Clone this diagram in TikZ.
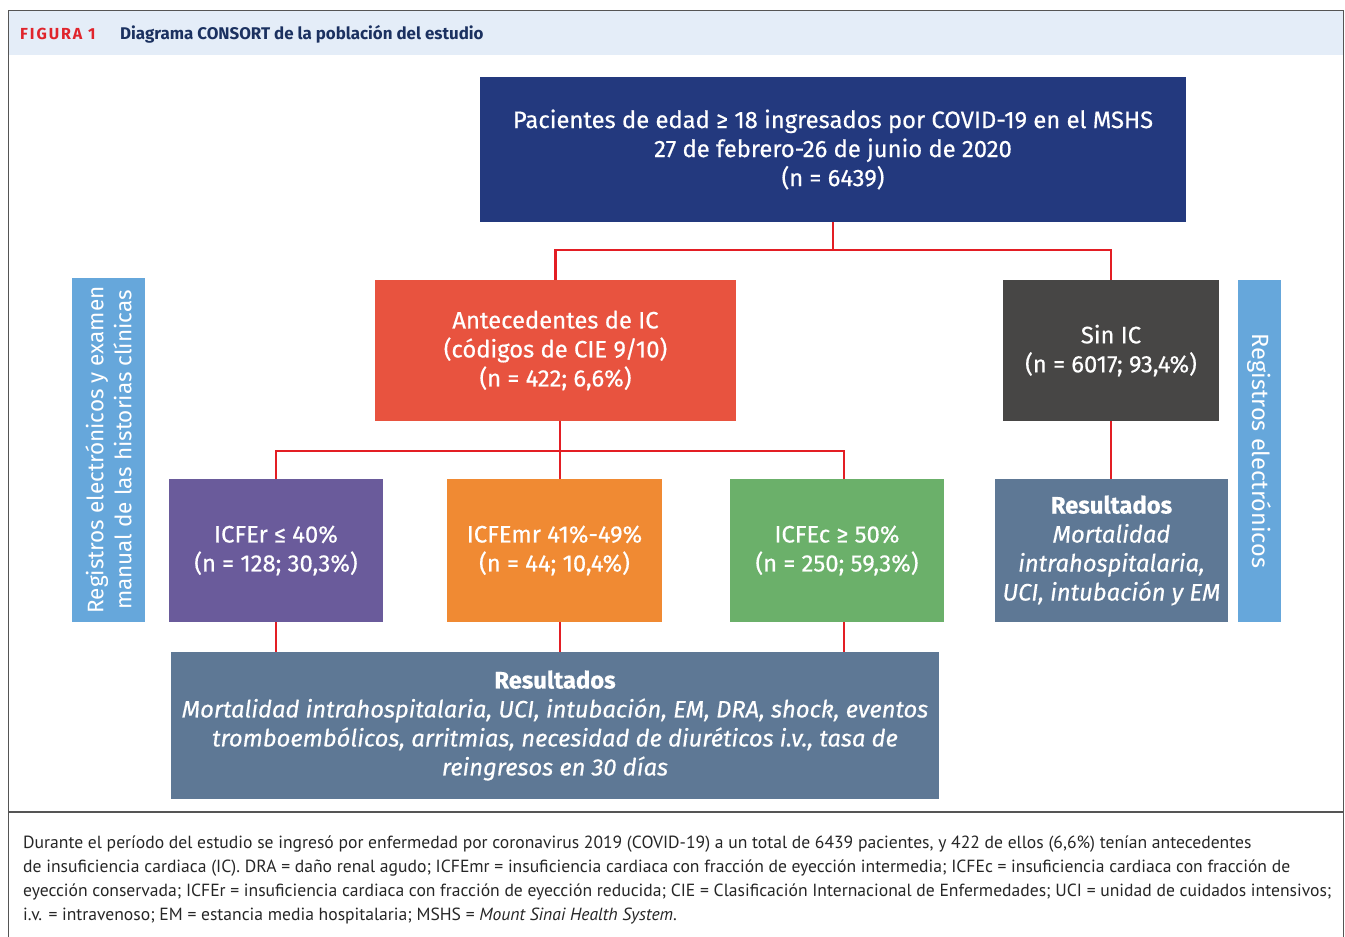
\documentclass[tikz,border=0pt]{standalone}
\usepackage{fontspec}
\setmainfont{Fira Sans}
\newfontfamily\boxfont{Fira Sans}[FakeBold=0.5]
\newfontfamily\capfont{PT Sans}
\definecolor{navy}{HTML}{23397E}
\definecolor{linered}{HTML}{E31E24}
\definecolor{antec}{HTML}{E8533F}
\definecolor{sinic}{HTML}{474645}
\definecolor{purp}{HTML}{6A5B9B}
\definecolor{orng}{HTML}{F08A33}
\definecolor{grn}{HTML}{6BB06A}
\definecolor{resc}{HTML}{5E7895}
\definecolor{barblue}{HTML}{66A7DB}
\definecolor{headbg}{HTML}{E4EDF8}
\definecolor{headtxt}{HTML}{1B3160}
\definecolor{figred}{HTML}{E0242C}
\definecolor{framec}{HTML}{555555}
\begin{document}
\begin{tikzpicture}[x=1pt,y=-1pt,
  box/.style={draw=none,text=white,align=center,inner sep=0pt,font=\boxfont\fontsize{23.8}{29}\selectfont},
  conn/.style={draw=linered,line width=2.4pt},
  sidebar/.style={fill=barblue,draw=none,text=white,align=center,inner sep=0pt}]
\useasboundingbox (0,0) rectangle (1345,937);
% header and frame
\fill[headbg] (8,10) rectangle (1344,55);
\draw[framec,line width=1.2pt] (8.5,940) -- (8.5,10.5) -- (1343.5,10.5) -- (1343.5,940);
\draw[framec,line width=1.2pt] (8.5,812) -- (1343.5,812);
\node[anchor=base west,inner sep=0pt,text=figred,font=\fontsize{16}{18}\bfseries\addfontfeature{LetterSpace=12}] (fig) at (20,39) {FIGURA 1};
\node[anchor=base west,inner sep=0pt,text=headtxt,font=\fontsize{16.9}{20}\bfseries] (title) at (120,39) {Diagrama CONSORT de la población del estudio};
% boxes
\node[box,fill=navy,minimum width=706pt,minimum height=145pt] (top) at (833,149.5)
  {Pacientes de edad ≥ 18 ingresados por COVID-19 en el MSHS\\27 de febrero-26 de junio de 2020\\(n = 6439)};
\node[box,fill=antec,minimum width=361pt,minimum height=141pt] (ante) at (555.5,350.5)
  {Antecedentes de IC\\(códigos de CIE 9/10)\\(n = 422; 6,6\%)};
\node[box,fill=sinic,minimum width=216pt,minimum height=141pt] (sin) at (1111,350.5)
  {Sin IC\\(n = 6017; 93,4\%)};
\node[box,fill=purp,minimum width=214pt,minimum height=143pt] (icfer) at (276,550.5)
  {ICFEr ≤ 40\%\\(n = 128; 30,3\%)};
\node[box,fill=orng,minimum width=215pt,minimum height=143pt] (icfemr) at (554.5,550.5)
  {ICFEmr 41\%-49\%\\(n = 44; 10,4\%)};
\node[box,fill=grn,minimum width=214pt,minimum height=143pt] (icfec) at (837,550.5)
  {ICFEc ≥ 50\%\\(n = 250; 59,3\%)};
\node[box,fill=resc,minimum width=233pt,minimum height=143pt] (resr) at (1111.5,550.5)
  {\textbf{Resultados}\\\textit{Mortalidad}\\\textit{intrahospitalaria,}\\\textit{UCI, intubación y EM}};
\node[box,fill=resc,minimum width=768pt,minimum height=147pt] (res) at (555,725.5)
  {\textbf{Resultados}\\\textit{Mortalidad intrahospitalaria, UCI, intubación, EM, DRA, shock, eventos}\\\textit{tromboembólicos, arritmias, necesidad de diuréticos i.v., tasa de}\\\textit{reingresos en 30 días}};
% side bars
\node[sidebar,minimum width=73pt,minimum height=344pt] (lbar) at (108.5,450) {};
\node[text=white,align=center,inner sep=0pt,rotate=90,font=\fontsize{22.5}{28}\selectfont] (ltxt) at (lbar.center)
  {Registros electrónicos y examen\\manual de las historias clínicas};
\node[sidebar,minimum width=43pt,minimum height=342pt] (rbar) at (1259.5,451) {};
\node[text=white,inner sep=0pt,rotate=-90,font=\fontsize{23.5}{28}\selectfont] (rtxt) at (rbar.center)
  {Registros electrónicos};
% connectors
\coordinate (b1) at (833,250);
\draw[conn] (top.south) -- (b1);
\draw[conn] (ante.north) |- (b1) -| (sin.north);
\coordinate (b2) at (560,451);
\coordinate (b2l) at (276,451);
\coordinate (b2r) at (844,451);
\draw[conn] (ante.south -| b2) -- (b2);
\draw[conn] (icfer.north -| b2l) -- (b2l) -- (b2r) -- (icfec.north -| b2r);
\draw[conn] (b2) -- (icfemr.north -| b2);
\draw[conn] (icfer.south -| b2l) -- (res.north -| b2l);
\draw[conn] (icfemr.south -| b2) -- (res.north -| b2);
\draw[conn] (icfec.south -| b2r) -- (res.north -| b2r);
\draw[conn] (sin.south) -- (resr.north -| sin.south);
% caption
\node[anchor=north west,inner sep=0pt,align=left,text=black!85,font=\capfont\fontsize{17.6}{24}\selectfont] (cap) at (23,836)
  {Durante el período del estudio se ingresó por enfermedad por coronavirus 2019 (COVID-19) a un total de 6439 pacientes, y 422 de ellos (6,6\%) tenían antecedentes\\
  de insuficiencia cardiaca (IC). DRA = daño renal agudo; ICFEmr = insuficiencia cardiaca con fracción de eyección intermedia; ICFEc = insuficiencia cardiaca con fracción de\\
  eyección conservada; ICFEr = insuficiencia cardiaca con fracción de eyección reducida; CIE = Clasificación Internacional de Enfermedades; UCI = unidad de cuidados intensivos;\\
  i.v. = intravenoso; EM = estancia media hospitalaria; MSHS = \textit{Mount Sinai Health System}.};
\end{tikzpicture}
\end{document}
